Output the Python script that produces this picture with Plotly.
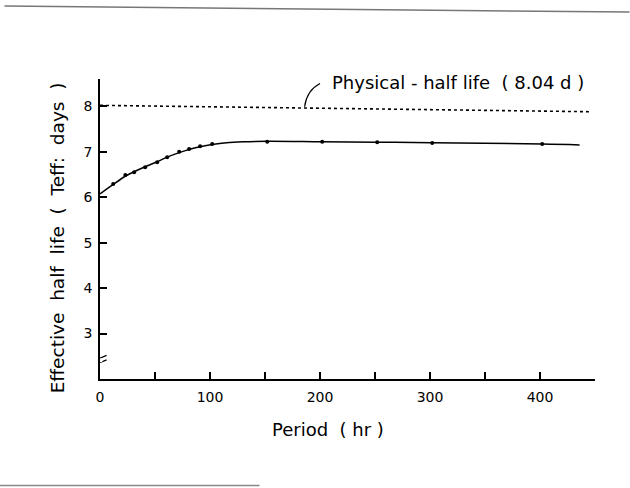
import plotly.graph_objects as go

# ---- data ----
point_hr = [12, 23, 31, 41, 52, 61, 72, 81, 91, 102, 152, 202, 252, 302, 402]
point_teff = [6.29, 6.49, 6.55, 6.66, 6.77, 6.88, 7.00, 7.06, 7.12, 7.17, 7.22, 7.22, 7.21, 7.19, 7.17]

curve_hr = [0, 12, 23, 31, 41, 52, 61, 72, 81, 91, 102, 115, 130, 152, 202, 252, 302, 402, 436]
curve_teff = [6.07, 6.28, 6.46, 6.56, 6.67, 6.78, 6.88, 6.98, 7.05, 7.11, 7.16, 7.20, 7.22, 7.23, 7.22, 7.21, 7.20, 7.17, 7.15]

physical_hr = [0, 446]
physical_teff = [8.02, 7.88]

x_tickvals = [0, 100, 200, 300, 400]
x_ticktext = ["0", "100", "200", "300", "400"]
y_tickvals = [3, 4, 5, 6, 7, 8]
y_ticktext = ["3", "4", "5", "6", "7", "8"]

FONT = "DejaVu Sans"

fig = go.Figure()
fig.add_trace(go.Scatter(x=physical_hr, y=physical_teff, mode="lines",
                         line=dict(color="black", width=1.6, dash="dot"),
                         showlegend=False, hoverinfo="skip"))
fig.add_trace(go.Scatter(x=curve_hr, y=curve_teff, mode="lines",
                         line=dict(color="black", width=1.5, shape="spline", smoothing=1.0),
                         showlegend=False))
fig.add_trace(go.Scatter(x=point_hr, y=point_teff, mode="markers",
                         marker=dict(color="black", size=4),
                         showlegend=False))

fig.update_layout(
    width=630, height=488,
    margin=dict(l=100, r=35, t=79, b=109),
    paper_bgcolor="white", plot_bgcolor="white",
    font=dict(family=FONT, color="black", size=14),
    xaxis=dict(range=[0, 450], showgrid=False, zeroline=False,
               showline=True, linecolor="black", linewidth=1.8,
               ticks="inside", ticklen=7, tickwidth=1.6, tickcolor="black",
               tickvals=x_tickvals, ticktext=x_ticktext, ticklabelstandoff=4,
               minor=dict(ticks="inside", ticklen=7, tickwidth=1.6, tickcolor="black",
                          tickvals=[50, 150, 250, 350]),
               tickfont=dict(family=FONT, size=14, color="black")),
    yaxis=dict(range=[2.0, 8.6], showgrid=False, zeroline=False,
               showline=True, linecolor="black", linewidth=1.8,
               ticks="inside", ticklen=7, tickwidth=1.6, tickcolor="black",
               tickvals=y_tickvals, ticktext=y_ticktext, ticklabelstandoff=3,
               tickfont=dict(family=FONT, size=14, color="black")),
)

# axis titles
fig.add_annotation(text="Period  ( hr )", xref="paper", yref="paper",
                   x=(328 - 100.5) / 495, y=(379.3 - 430) / 300.3,
                   showarrow=False, font=dict(family=FONT, size=18, color="black"),
                   xanchor="center", yanchor="middle")
fig.add_annotation(text="Effective  half  life  (  Teff:  days  )", xref="paper", yref="paper",
                   x=(58 - 100.5) / 495, y=(379.3 - 238) / 300.3, textangle=-90,
                   showarrow=False, font=dict(family=FONT, size=18.5, color="black"),
                   xanchor="center", yanchor="middle")

# physical half-life label with leader
fig.add_annotation(text="Physical - half life  ( 8.04 d )", x=(458 - 100.5) / 1.1, y=8.52,
                   xref="x", yref="y", showarrow=False,
                   font=dict(family=FONT, size=18, color="black"),
                   xanchor="center", yanchor="middle")
fig.add_shape(type="path", xref="x", yref="y",
              path="M 186,7.99 Q 188,8.35 200,8.5",
              line=dict(color="black", width=1.2))

# axis break marks
for yb in (2.36, 2.46):
    fig.add_shape(type="line", xref="x", yref="y",
                  x0=-6, x1=6, y0=yb - 0.06, y1=yb + 0.06,
                  line=dict(color="black", width=1.3))
fig.add_shape(type="rect", xref="x", yref="y", x0=-2, x1=2, y0=2.37, y1=2.45,
              line=dict(width=0), fillcolor="white", layer="above")

# scan edges
fig.add_shape(type="line", xref="paper", yref="paper",
              x0=(5 - 100.5) / 495, x1=(630 - 100.5) / 495,
              y0=(379.3 - 6) / 300.3, y1=(379.3 - 12) / 300.3,
              line=dict(color="#777777", width=1.5))
fig.add_shape(type="line", xref="paper", yref="paper",
              x0=(0 - 100.5) / 495, x1=(260 - 100.5) / 495,
              y0=(379.3 - 486) / 300.3, y1=(379.3 - 486) / 300.3,
              line=dict(color="#888888", width=1.5))

fig.write_html("out.html")
